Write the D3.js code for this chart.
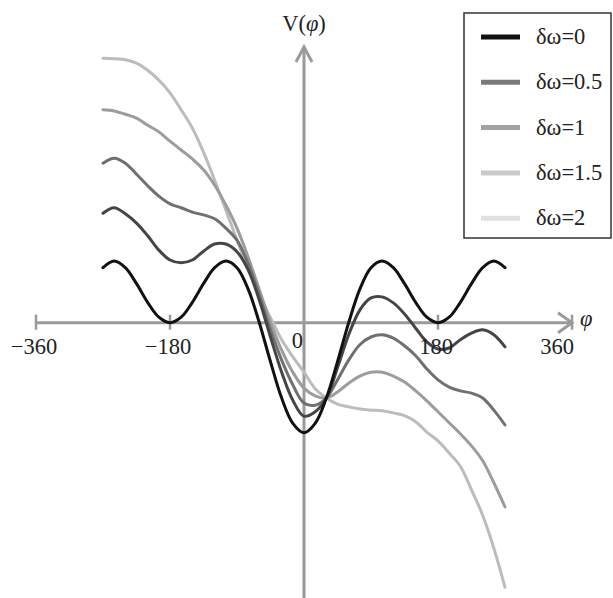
<!DOCTYPE html>
<html><head><meta charset="utf-8">
<script src="https://cdn.jsdelivr.net/npm/d3@7"></script>
<style>html,body{margin:0;padding:0;background:#fff;}svg{display:block;}</style>
</head><body>
<svg id="c" width="613" height="598"></svg>
<script>
const phiDeg = [-270,-255,-240,-225,-210,-195,-180,-165,-150,-135,-120,-105,-90,-75,-60,-45,-30,-15,0,15,30,45,60,75,90,105,120,135,150,165,180,195,210,225,240,255,270];
const seriesNames = ["δω=0","δω=0.5","δω=1","δω=1.5","δω=2"];
const v0  = [1.00,1.12,1.00,0.71,0.37,0.10,0.00, 0.10,0.37,0.71,1.00,1.12,1.00, 0.61,0.00,-0.71,-1.37,-1.83,-2.00, -1.83,-1.37,-0.71,0.00,0.61,1.00, 1.12,1.00,0.71,0.37,0.10,0.00, 0.10,0.37,0.71,1.00,1.12,1.00];
const v05 = [1.99,2.09,1.98,1.81,1.58,1.32,1.14, 1.09,1.14,1.30,1.43,1.43,1.29, 0.96,0.41,-0.26,-0.90,-1.41,-1.70, -1.62,-1.37,-0.82,-0.22,0.23,0.45, 0.47,0.36,0.16,-0.10,-0.35,-0.48, -0.46,-0.31,-0.19,-0.13,-0.22,-0.44];
const v1  = [2.90,2.99,2.90,2.70,2.49,2.30,2.16, 2.09,2.01,1.96,1.89,1.72,1.50, 1.07,0.50,-0.13,-0.68,-1.13,-1.46, -1.50,-1.37,-1.04,-0.68,-0.40,-0.26, -0.22,-0.28,-0.42,-0.60,-0.84,-1.04, -1.17,-1.24,-1.28,-1.37,-1.59,-1.86];
const v15 = [3.87,3.85,3.79,3.72,3.59,3.47,3.30, 3.14,2.98,2.78,2.50,2.14,1.72, 1.19,0.60,0.01,-0.50,-0.90,-1.19, -1.33,-1.37,-1.26,-1.10,-0.97,-0.90, -0.90,-0.97,-1.08,-1.24,-1.42,-1.62, -1.82,-2.02,-2.24,-2.51,-2.91,-3.35];
const v2  = [4.81,4.80,4.78,4.72,4.59,4.41,4.18, 3.87,3.54,3.10,2.59,2.05,1.50, 0.99,0.50,0.09,-0.31,-0.62,-0.90, -1.20,-1.37,-1.48,-1.53,-1.57,-1.59, -1.60,-1.64,-1.69,-1.80,-1.99,-2.15, -2.37,-2.61,-3.04,-3.50,-4.10,-4.81];
const xTickValues = [-360,-180,180,360];
const xTickLabels = ["−360","−180","180","360"];
const curveColors  = ["#111111","#454545","#707070","#9c9c9c","#bcbcbc"];
const legendColors = ["#111111","#7a7a7a","#a2a2a2","#c9c9c9","#e0e0e0"];

const allSeries = [v0, v05, v1, v15, v2];
const svg = d3.select("#c");
const font = "'Liberation Serif','DejaVu Serif',serif";
const x = d3.scaleLinear().domain([-360, 360]).range([36, 572]);
const y = d3.scaleLinear().domain([-5, 5]).range([597.7, 47.7]);
const axisColor = "#9a9a9a";

// axes
const g = svg.append("g");
g.append("line").attr("x1", x(-360)).attr("x2", x(360)).attr("y1", y(0)).attr("y2", y(0))
  .attr("stroke", axisColor).attr("stroke-width", 3);
g.append("line").attr("x1", x(0)).attr("x2", x(0)).attr("y1", 598).attr("y2", 47)
  .attr("stroke", axisColor).attr("stroke-width", 3);
// ticks
g.selectAll(".tk").data(xTickValues).enter().append("line")
  .attr("x1", d => x(d)).attr("x2", d => x(d)).attr("y1", y(0) - 8).attr("y2", y(0) + 7)
  .attr("stroke", axisColor).attr("stroke-width", 2.5);
// arrows
g.append("path").attr("d", `M${x(360)-14},${y(0)-10} L${x(360)},${y(0)} L${x(360)-14},${y(0)+10}`)
  .attr("fill", "none").attr("stroke", axisColor).attr("stroke-width", 3);
g.append("path").attr("d", `M${x(0)-8},62 L${x(0)},47 L${x(0)+8},62`)
  .attr("fill", "none").attr("stroke", axisColor).attr("stroke-width", 3);

// curves
const line = d3.line().x((d, i) => x(phiDeg[i])).y(d => y(d)).curve(d3.curveCatmullRom.alpha(0.5));
[4,3,2,1,0].forEach(k => {
  svg.append("path").datum(allSeries[k]).attr("d", line)
    .attr("fill", "none").attr("stroke", curveColors[k]).attr("stroke-width", 3)
    .attr("stroke-linejoin", "round").attr("stroke-linecap", "round");
});

// tick labels
svg.selectAll(".tl").data(xTickValues).enter().append("text")
  .attr("x", (d, i) => i === 3 ? x(d) - 15 : x(d) - 2).attr("y", 354)
  .attr("text-anchor", "middle").attr("font-family", font).attr("font-size", 22.5).attr("fill", "#222")
  .text((d, i) => xTickLabels[i]);
svg.append("text").attr("x", x(0) - 1).attr("y", 348).attr("text-anchor", "end")
  .attr("font-family", font).attr("font-size", 22.5).attr("fill", "#222").text("0");

// axis titles
const vt = svg.append("text").attr("x", x(0)).attr("y", 31).attr("text-anchor", "middle")
  .attr("font-family", font).attr("font-size", 22.5).attr("fill", "#222");
vt.append("tspan").text("V(");
vt.append("tspan").attr("font-style", "italic").text("φ");
vt.append("tspan").text(")");
svg.append("text").attr("x", 580).attr("y", 326).attr("font-family", font).attr("font-style", "italic")
  .attr("font-size", 22.5).attr("fill", "#222").text("φ");

// legend
const lg = svg.append("g");
lg.append("rect").attr("x", 464).attr("y", 13).attr("width", 147).attr("height", 225)
  .attr("fill", "#fff").attr("stroke", "#333").attr("stroke-width", 1.5);
seriesNames.forEach((name, i) => {
  const yy = 37 + i * 45.3;
  lg.append("line").attr("x1", 481).attr("x2", 520).attr("y1", yy).attr("y2", yy)
    .attr("stroke", legendColors[i]).attr("stroke-width", 5);
  lg.append("text").attr("x", 536).attr("y", yy + 7).attr("font-family", font).attr("font-size", 22.5)
    .attr("fill", "#222").text(name);
});
</script>
</body></html>
